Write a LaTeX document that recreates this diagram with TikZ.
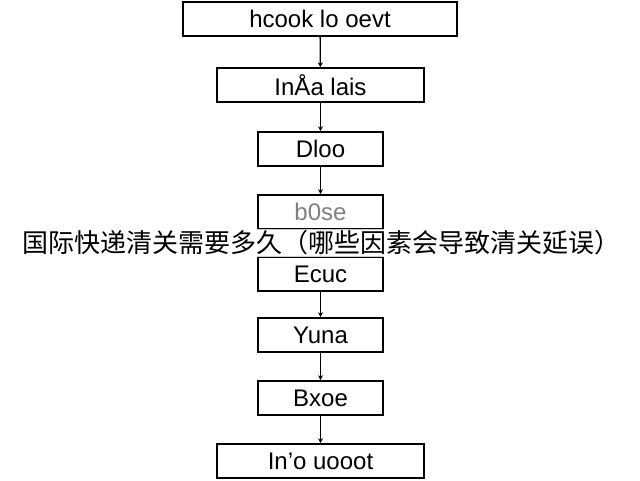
\documentclass[tikz,border=0pt]{standalone}
\usepackage{fontspec}
\setmainfont{Liberation Sans}
\newfontfamily\cjk{Noto Sans CJK SC}
\usetikzlibrary{arrows.meta}
\begin{document}
\begin{tikzpicture}[x=1pt,y=-1pt,
  box/.style={draw,line width=1.6pt,minimum height=34pt,inner sep=0pt,font=\fontsize{24}{26}\selectfont},
  arr/.style={line width=1.3pt,-{Stealth[length=5pt,width=5pt]}}]
\useasboundingbox (0,0) rectangle (640,480);
\node[box,minimum width=274pt] (n1) at (320,19) {hcook lo oevt};
\node[box,minimum width=207pt] (n2) at (320.5,85) {In\AA a lais};
\node[box,minimum width=125pt] (n3) at (320.5,149) {Dloo};
\node[box,minimum width=125pt,text=gray] (n4) at (320.5,212) {b0se};
\node[box,minimum width=125pt] (n5) at (320.5,274) {Ecuc};
\node[box,minimum width=125pt] (n6) at (320.5,335) {Yuna};
\node[box,minimum width=125pt] (n7) at (320.5,398) {Bxoe};
\node[box,minimum width=207pt] (n8) at (320.5,461) {In'o uooot};
\foreach \a/\b in {n1/n2,n2/n3,n3/n4,n4/n5,n5/n6,n6/n7,n7/n8}
  \draw[arr] (\a) -- (\b);
\node[fill=white,fill opacity=0.8,text opacity=1,inner sep=2pt,font=\cjk\fontsize{26}{28}\selectfont] (t) at (321,243) {国际快递清关需要多久（哪些因素会导致清关延误）};
\end{tikzpicture}
\end{document}
